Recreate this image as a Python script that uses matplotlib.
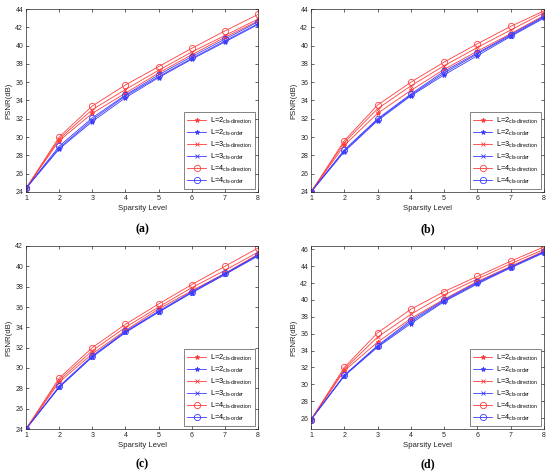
import matplotlib
matplotlib.use("Agg")
import matplotlib.pyplot as plt

plt.rcParams['font.family'] = ['Liberation Sans', 'DejaVu Sans']
plt.rcParams['mathtext.fontset'] = 'custom'
plt.rcParams['mathtext.rm'] = 'Liberation Sans'

sparsity = [1, 2, 3, 4, 5, 6, 7, 8]

# panel (a)
a_L2_dir = [24.4, 29.6, 32.6, 34.8, 37.0, 39.0, 40.9, 42.7]
a_L2_ord = [24.4, 28.7, 31.7, 34.3, 36.5, 38.5, 40.4, 42.3]
a_L3_dir = [24.4, 29.8, 33.0, 35.2, 37.3, 39.3, 41.1, 42.9]
a_L3_ord = [24.4, 28.8, 31.9, 34.5, 36.6, 38.6, 40.5, 42.4]
a_L4_dir = [24.4, 30.0, 33.4, 35.7, 37.7, 39.7, 41.6, 43.4]
a_L4_ord = [24.4, 29.0, 32.1, 34.6, 36.8, 38.8, 40.7, 42.6]

# panel (b)
b_L2_dir = [24.0, 29.1, 32.6, 35.1, 37.4, 39.4, 41.3, 43.3]
b_L2_ord = [24.0, 28.4, 31.8, 34.5, 36.8, 38.9, 41.0, 43.0]
b_L3_dir = [24.0, 29.4, 33.1, 35.6, 37.8, 39.8, 41.7, 43.6]
b_L3_ord = [24.0, 28.5, 31.9, 34.6, 37.0, 39.1, 41.1, 43.1]
b_L4_dir = [24.0, 29.6, 33.5, 36.0, 38.2, 40.2, 42.1, 43.8]
b_L4_ord = [24.0, 28.6, 32.0, 34.7, 37.2, 39.2, 41.2, 43.2]

# panel (c)
c_L2_dir = [24.0, 28.6, 31.4, 33.7, 35.8, 37.6, 39.3, 41.2]
c_L2_ord = [24.0, 28.1, 31.1, 33.5, 35.5, 37.4, 39.2, 41.0]
c_L3_dir = [24.0, 28.8, 31.7, 34.0, 36.0, 37.9, 39.6, 41.4]
c_L3_ord = [24.0, 28.1, 31.1, 33.5, 35.5, 37.4, 39.2, 41.1]
c_L4_dir = [24.0, 29.0, 32.0, 34.3, 36.3, 38.2, 40.0, 41.8]
c_L4_ord = [24.0, 28.2, 31.2, 33.6, 35.6, 37.5, 39.3, 41.1]

# panel (d)
d_L2_dir = [25.8, 31.6, 35.0, 37.8, 40.1, 42.2, 44.0, 45.8]
d_L2_ord = [25.8, 31.0, 34.4, 37.2, 39.8, 41.9, 43.8, 45.6]
d_L3_dir = [25.8, 31.8, 35.6, 38.3, 40.6, 42.5, 44.3, 46.0]
d_L3_ord = [25.8, 31.0, 34.5, 37.4, 39.9, 42.0, 43.9, 45.7]
d_L4_dir = [25.8, 32.0, 36.1, 38.9, 41.0, 42.8, 44.6, 46.3]
d_L4_ord = [25.8, 31.1, 34.6, 37.6, 40.0, 42.1, 43.9, 45.7]

labels = [r'L=2$_{\mathrm{cls‐direction}}$', r'L=2$_{\mathrm{cls‐order}}$',
          r'L=3$_{\mathrm{cls‐direction}}$', r'L=3$_{\mathrm{cls‐order}}$',
          r'L=4$_{\mathrm{cls‐direction}}$', r'L=4$_{\mathrm{cls‐order}}$']

panels = [
    ('(a)', [a_L2_dir, a_L2_ord, a_L3_dir, a_L3_ord, a_L4_dir, a_L4_ord], (24, 44), list(range(24, 45, 2))),
    ('(b)', [b_L2_dir, b_L2_ord, b_L3_dir, b_L3_ord, b_L4_dir, b_L4_ord], (24, 44), list(range(24, 45, 2))),
    ('(c)', [c_L2_dir, c_L2_ord, c_L3_dir, c_L3_ord, c_L4_dir, c_L4_ord], (24, 42), list(range(24, 43, 2))),
    ('(d)', [d_L2_dir, d_L2_ord, d_L3_dir, d_L3_ord, d_L4_dir, d_L4_ord], (24.7, 46.4), list(range(26, 47, 2))),
]

W, H = 550, 473
boxes = [
    (26, 9, 258, 192), (311, 9, 544, 192),
    (26, 246, 258, 429), (311, 246, 544, 429),
]
captions_y = [229, 229, 464, 464]

red = '#ff3c3c'
blue = '#3c3cff'
styles = [
    dict(color=red, marker='*', ms=3.5),
    dict(color=blue, marker='*', ms=3.5),
    dict(color=red, marker='x', ms=3),
    dict(color=blue, marker='x', ms=3),
    dict(color=red, marker='o', ms=4.5, mfc='none'),
    dict(color=blue, marker='o', ms=4.5, mfc='none'),
]

fig = plt.figure(figsize=(5.5, 4.73), dpi=100)
for (cap, series, ylim, yticks), (x0, y0, x1, y1), cy in zip(panels, boxes, captions_y):
    ax = fig.add_axes([x0 / W, 1 - y1 / H, (x1 - x0) / W, (y1 - y0) / H])
    for s, st, lab in zip(series, styles, labels):
        ax.plot(sparsity, s, lw=0.6, mew=0.6, label=lab, **st)
    ax.set_xlim(1, 8)
    ax.set_ylim(*ylim)
    ax.set_xticks(sparsity)
    ax.set_yticks(yticks)
    ax.tick_params(direction='in', length=2.5, width=0.5, labelsize=5,
                   top=True, right=True, pad=2, colors='#262626')
    for sp in ax.spines.values():
        sp.set_linewidth(0.5)
        sp.set_color('#262626')
    ax.set_xlabel('Sparsity Level', fontsize=5.6, labelpad=2, color='#262626')
    ax.set_ylabel('PSNR(dB)', fontsize=5.6, labelpad=2, color='#262626')
    leg = ax.legend(loc='lower right', fontsize=5.3, frameon=True, fancybox=False,
                    edgecolor='#262626', handlelength=2.6, borderaxespad=0.4,
                    labelspacing=0.25, handletextpad=0.5, borderpad=0.45)
    leg.get_frame().set_linewidth(0.5)
    fig.text(((x0 + x1) / 2) / W, 1 - cy / H, cap, ha='center', va='center',
             fontsize=8.5, fontweight='bold', family='Liberation Serif')

fig.savefig('out.png', dpi=100)
